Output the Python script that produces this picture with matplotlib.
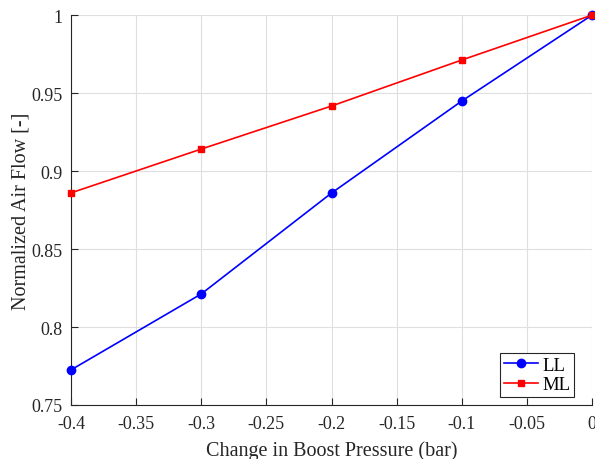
import matplotlib
matplotlib.use("Agg")
import matplotlib.pyplot as plt

plt.rcParams['font.family'] = ['Liberation Serif', 'DejaVu Serif']

boost = [-0.4, -0.3, -0.2, -0.1, 0.0]
ll_flow = [0.7725, 0.8212, 0.8859, 0.9449, 1.0]
ml_flow = [0.8860, 0.9141, 0.9417, 0.9712, 1.0]

xticks = [-0.4, -0.35, -0.3, -0.25, -0.2, -0.15, -0.1, -0.05, 0]
xticklabels = ['-0.4', '-0.35', '-0.3', '-0.25', '-0.2', '-0.15', '-0.1', '-0.05', '0']
yticks = [0.75, 0.8, 0.85, 0.9, 0.95, 1.0]
yticklabels = ['0.75', '0.8', '0.85', '0.9', '0.95', '1']

fig = plt.figure(figsize=(5.95, 4.6), dpi=100)
ax = fig.add_axes([0.1193, 0.1174, 0.8757, 0.8476])

ax.plot(boost, ll_flow, color='#0000ff', marker='o', markersize=6, linewidth=1.2,
        label='LL', clip_on=False, zorder=3)
ax.plot(boost, ml_flow, color='#ff0000', marker='s', markersize=5, linewidth=1.2,
        label='ML', clip_on=False, zorder=3)

ax.set_xlim(-0.4, 0)
ax.set_ylim(0.75, 1.0)
ax.set_xticks(xticks)
ax.set_xticklabels(xticklabels)
ax.set_yticks(yticks)
ax.set_yticklabels(yticklabels)
ax.grid(True, color='#dfdfdf', linewidth=0.8)
ax.set_axisbelow(True)

for side in ('top', 'right'):
    ax.spines[side].set_visible(False)
for side in ('left', 'bottom'):
    ax.spines[side].set_color('#262626')
    ax.spines[side].set_linewidth(0.8)
ax.tick_params(direction='in', length=5, width=0.8, colors='#262626',
               labelsize=13, labelcolor='#262626')
ax.tick_params(axis='x', pad=7)
ax.tick_params(axis='y', pad=6)

ax.set_xlabel('Change in Boost Pressure (bar)', fontsize=14.5, color='#262626', labelpad=6)
ax.set_ylabel('Normalized Air Flow [-]', fontsize=14.5, color='#262626', labelpad=1)

leg = ax.legend(loc='lower right', bbox_to_anchor=(0.966, 0.02), fontsize=13.5,
                fancybox=False, framealpha=1, edgecolor='#262626', borderpad=0.2,
                handlelength=1.8, handletextpad=0.25, labelspacing=0.15,
                borderaxespad=0.0)
leg.get_frame().set_linewidth(0.8)

fig.savefig('out.png', dpi=100)
